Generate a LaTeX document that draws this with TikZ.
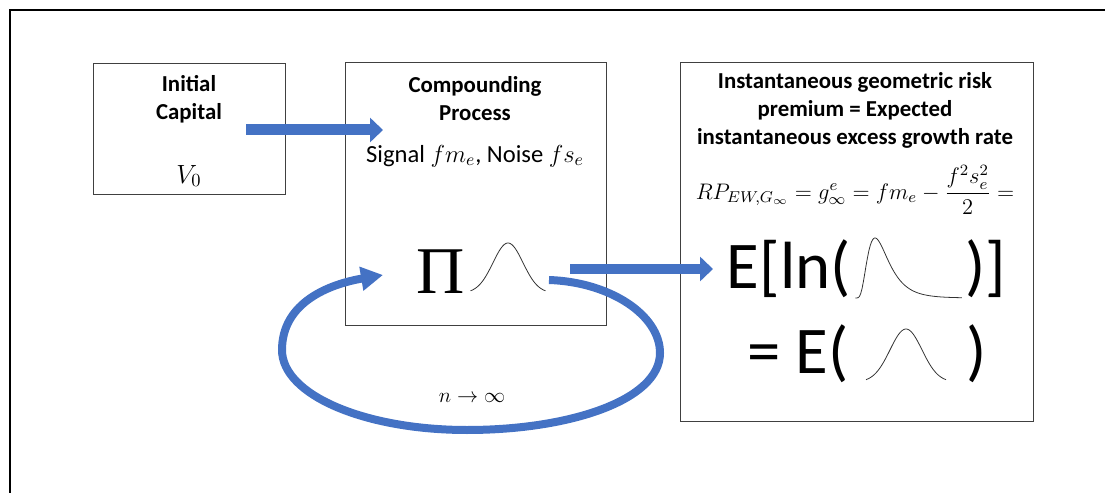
\RequirePackage{fix-cm}
\documentclass[tikz,border=0pt]{standalone}
\usepackage{amsmath}
\usepackage{fontspec}
\setmainfont{Carlito}
\newfontfamily\pifont{Liberation Serif}
\usetikzlibrary{arrows.meta}
\definecolor{officeblue}{RGB}{68,114,196}
\tikzset{
  box/.style={draw=black!75, line width=0.7pt, inner sep=0pt, anchor=north west},
  head/.style={font=\fontsize{13}{15.9}\selectfont\bfseries, align=center, inner sep=1pt},
  txt/.style={font=\fontsize{13.5}{15}\selectfont, inner sep=1pt},
  big/.style={font=\fontsize{38}{38}\selectfont, inner sep=0pt},
  blockarrow/.style={draw=officeblue, line width=0.22cm, -{Triangle[length=0.26cm,width=0.48cm]}},
  looparrow/.style={draw=officeblue, line width=0.16cm, -{Triangle[length=0.44cm,width=0.46cm]}},
  bell/.style={line width=0.45pt, black!80},
}
\begin{document}
\begin{tikzpicture}[x=0.02cm, y=-0.02cm]
  \useasboundingbox (0,0) rectangle (1105,493);
  % outer frame
  \draw[line width=1.1pt] (10,493) -- (10,10) -- (1105,10);

  % boxes
  \node[box, minimum width=3.84cm, minimum height=2.62cm] (init) at (93,63) {};
  \node[box, minimum width=5.22cm, minimum height=5.26cm] (comp) at (345,62) {};
  \node[box, minimum width=7.06cm, minimum height=7.18cm] (prem) at (680,62) {};

  % initial capital
  \node[head] (inittitle) at (189,99) {Initial\\Capital};
  \node[txt, font=\fontsize{15}{15}\selectfont] (vzero) at (189,176) {$V_0$};

  % compounding process
  \node[head] (comptitle) at (475,99) {Compounding\\Process};
  \node[txt, font=\fontsize{14}{15}\selectfont] (signal) at (475,156) {Signal $fm_e$, Noise $fs_e$};
  \node[inner sep=0pt] (prod) at (441,272) {\fontsize{38}{38}\selectfont\pifont Π};
  \draw[bell] plot[domain=-2.5:2.5, samples=50] ({508+15*\x}, {293-50*exp(-\x*\x/2)});

  % risk premium
  \node[head, inner sep=0pt] (premtitle) at (855,110) {Instantaneous geometric risk\\premium = Expected\\instantaneous excess growth rate};
  \node[txt, inner sep=0pt, font=\fontsize{12.8}{14}\selectfont] (formula) at (855,190) {$RP_{EW,G_\infty} = g_\infty^e = fm_e - \dfrac{f^2 s_e^2}{2} =$};
  \node[big, anchor=base east] (eln) at (851,288) {E[ln(};
  \node[big, anchor=base west] (elnclose) at (965,288) {)]};
  \draw[bell] plot[domain=0.05:4, samples=80] ({854+27*\x}, {298-53*exp(-ln(\x)*ln(\x)/0.5)/\x});
  \node[big, anchor=base east] (eq) at (849,373) {= E(};
  \node[big, anchor=base west] (eqclose) at (966,373) {)};
  \draw[bell] plot[domain=-2.5:2.5, samples=50] ({906+16*\x}, {382-53*exp(-\x*\x/2)});

  % arrows
  \coordinate (a1s) at (246,130);
  \coordinate (a1e) at (383,130);
  \coordinate (a2s) at (570,269);
  \coordinate (a2e) at (713,269);
  \draw[blockarrow] (a1s) -- (a1e);
  \draw[blockarrow] (a2s) -- (a2e);

  % loop
  \coordinate (loopout) at (549,280);
  \coordinate (loopin) at (383,275);
  \draw[looparrow] (loopout) .. controls (610,282) and (660,315) .. (660,353)
    .. controls (660,400) and (570,430) .. (467,430)
    .. controls (365,430) and (282,395) .. (282,350)
    .. controls (282,302) and (330,284) .. (loopin);
  \node[txt, font=\fontsize{12}{14}\selectfont] (lim) at (472,398) {$n \rightarrow \infty$};
\end{tikzpicture}
\end{document}
